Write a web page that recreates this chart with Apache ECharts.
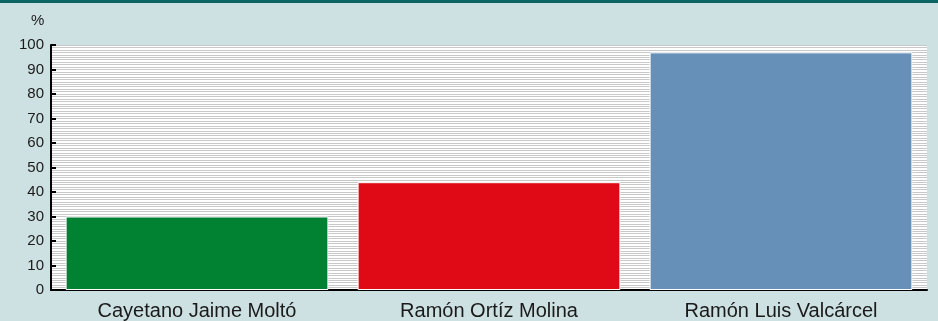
<!DOCTYPE html>
<html>
<head>
<meta charset="utf-8">
<script src="https://cdn.jsdelivr.net/npm/echarts@6/dist/echarts.min.js"></script>
<style>
  html, body { margin: 0; padding: 0; background: #cde0e2; overflow: hidden; }
  #topbar { position: absolute; left: 0; top: 0; width: 938px; height: 3px; background: #0d6464; z-index: 2; }
  #chart { width: 938px; height: 321px; }
</style>
</head>
<body>
<div id="topbar"></div>
<div id="chart"></div>
<script>
// Candidates and their percentage
const categories = ['Cayetano Jaime Moltó', 'Ramón Ortíz Molina', 'Ramón Luis Valcárcel'];
const values = [30, 44, 97];
const barColors = ['#008232', '#e00a17', '#6790b8'];
const yTicks = [0, 10, 20, 30, 40, 50, 60, 70, 80, 90, 100];

const chart = echarts.init(document.getElementById('chart'), null, { renderer: 'canvas' });

chart.setOption({
  backgroundColor: '#cde0e2',
  animation: false,
  textStyle: { fontFamily: 'Liberation Sans, Arial, sans-serif' },
  title: {
    text: '%',
    left: 26,
    top: 8,
    textStyle: { fontSize: 15, fontWeight: 'normal', color: '#1a1a1a', fontFamily: 'Liberation Sans, Arial, sans-serif' }
  },
  grid: {
    left: 51, right: 11, top: 45, bottom: 30,
    show: true, backgroundColor: '#ffffff', borderWidth: 0
  },
  xAxis: {
    type: 'category',
    data: categories,
    axisLine: { lineStyle: { color: '#000000', width: 2 } },
    axisTick: { show: false },
    axisLabel: { fontSize: 20, color: '#1a1a1a', margin: 11 }
  },
  yAxis: {
    type: 'value',
    min: yTicks[0],
    max: yTicks[yTicks.length - 1],
    interval: 10,
    axisLine: { show: true, lineStyle: { color: '#000000', width: 2 } },
    axisTick: { show: true, inside: true, length: 5, lineStyle: { color: '#000000', width: 2 } },
    axisLabel: { fontSize: 15, color: '#1a1a1a', margin: 7 },
    splitLine: { show: true, lineStyle: { color: '#c8c8c8', width: 1 } },
    minorTick: { show: false, splitNumber: 10 },
    minorSplitLine: { show: true, lineStyle: { color: '#c8c8c8', width: 1 } }
  },
  series: [{
    type: 'bar',
    data: values.map((v, i) => ({ value: v, itemStyle: { color: barColors[i] } })),
    barCategoryGap: '10%',
    itemStyle: { borderColor: '#ffffff', borderWidth: 1 }
  }]
});
</script>
</body>
</html>
